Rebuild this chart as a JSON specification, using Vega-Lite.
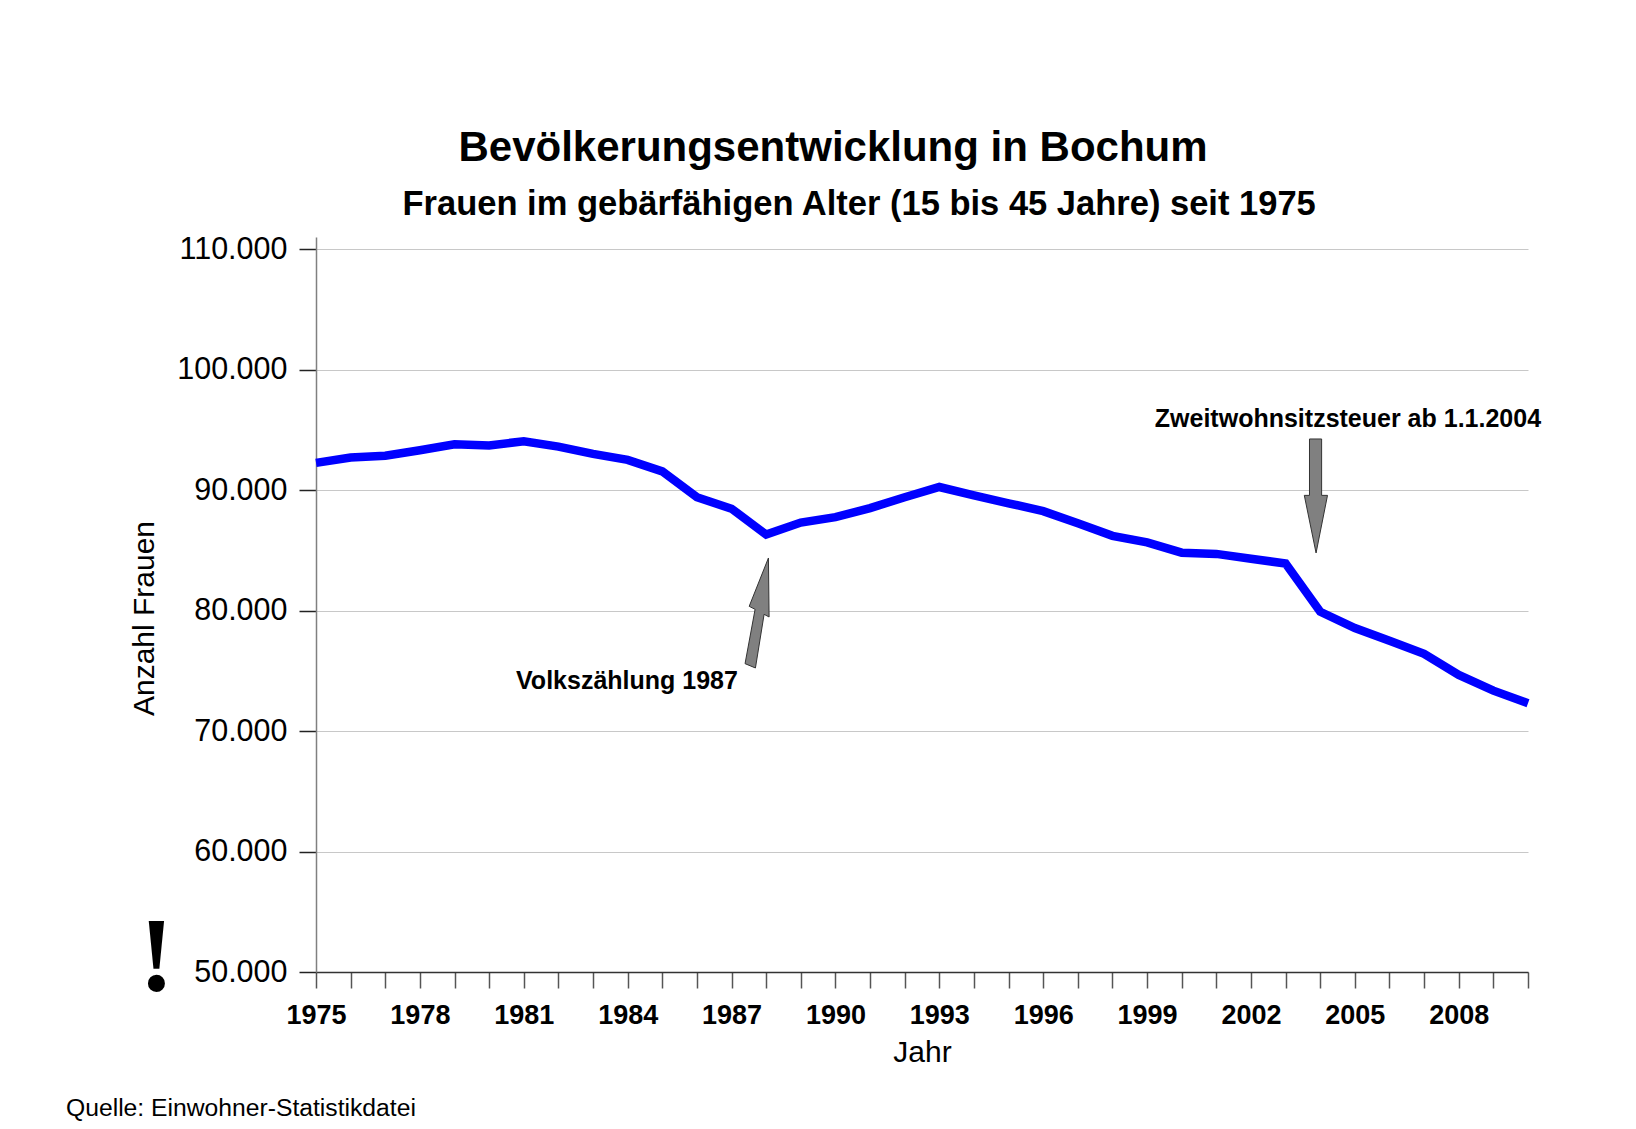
{
  "$schema": "https://vega.github.io/schema/vega-lite/v6.json",
  "width": 1212,
  "height": 735,
  "autosize": {"type": "none"},
  "padding": {"left": 316, "top": 237, "right": 108, "bottom": 157},
  "background": "white",
  "config": {
    "view": {"stroke": null},
    "locale": {"number": {"decimal": ",", "thousands": ".", "grouping": [3], "currency": ["", " €"]}},
    "font": "Liberation Sans"
  },
  "title": {
    "text": "Bevölkerungsentwicklung in Bochum",
    "font": "Liberation Sans",
    "fontSize": 42,
    "fontWeight": "bold",
    "color": "black",
    "anchor": "middle",
    "dx": -89,
    "baseline": "alphabetic",
    "offset": -17
  },
  "resolve": {"axis": {"x": "independent", "y": "independent"}},
  "layer": [
    {
      "data": {"values": [
        {"year": 1975, "value": 92250}, {"year": 1976, "value": 92700}, {"year": 1977, "value": 92850},
        {"year": 1978, "value": 93300}, {"year": 1979, "value": 93800}, {"year": 1980, "value": 93700},
        {"year": 1981, "value": 94050}, {"year": 1982, "value": 93600}, {"year": 1983, "value": 93000},
        {"year": 1984, "value": 92500}, {"year": 1985, "value": 91550}, {"year": 1986, "value": 89400},
        {"year": 1987, "value": 88450}, {"year": 1988, "value": 86300}, {"year": 1989, "value": 87300},
        {"year": 1990, "value": 87750}, {"year": 1991, "value": 88500}, {"year": 1992, "value": 89400},
        {"year": 1993, "value": 90250}, {"year": 1994, "value": 89550}, {"year": 1995, "value": 88900},
        {"year": 1996, "value": 88250}, {"year": 1997, "value": 87250}, {"year": 1998, "value": 86200},
        {"year": 1999, "value": 85650}, {"year": 2000, "value": 84800}, {"year": 2001, "value": 84700},
        {"year": 2002, "value": 84300}, {"year": 2003, "value": 83900}, {"year": 2004, "value": 79900},
        {"year": 2005, "value": 78550}, {"year": 2006, "value": 77500}, {"year": 2007, "value": 76400},
        {"year": 2008, "value": 74650}, {"year": 2009, "value": 73350}, {"year": 2010, "value": 72300}
      ]},
      "mark": {"type": "line", "color": "#0000ff", "strokeWidth": 8.5, "strokeJoin": "miter", "strokeCap": "butt"},
      "encoding": {
        "x": {
          "field": "year", "type": "quantitative",
          "scale": {"domain": [1975, 2010], "nice": false, "zero": false},
          "axis": {
            "orient": "bottom",
            "values": [1975,1976,1977,1978,1979,1980,1981,1982,1983,1984,1985,1986,1987,1988,1989,1990,1991,1992,1993,1994,1995,1996,1997,1998,1999,2000,2001,2002,2003,2004,2005,2006,2007,2008,2009,2010],
            "format": "d",
            "labelExpr": "(datum.value - 1975) % 3 === 0 ? datum.label : ''",
            "labelFont": "Liberation Sans",
            "labelFontSize": 27,
            "labelFontWeight": "bold",
            "labelColor": "black",
            "labelPadding": 14,
            "labelOverlap": false,
            "labelFlush": false,
            "tickSize": 16,
            "tickColor": "#555555",
            "tickWidth": 1.5,
            "domainColor": "#333333",
            "domainWidth": 1.5,
            "grid": false,
            "title": "Jahr",
            "titleFont": "Liberation Sans",
            "titleFontSize": 30,
            "titleFontWeight": "normal",
            "titleColor": "black",
            "titlePadding": 9
          }
        },
        "y": {
          "field": "value", "type": "quantitative",
          "scale": {"domain": [50000, 111000], "nice": false, "zero": false},
          "axis": {
            "values": [50000, 60000, 70000, 80000, 90000, 100000, 110000],
            "format": ",d",
            "labelFont": "Liberation Sans",
            "labelFontSize": 30.5,
            "labelColor": "black",
            "labelPadding": 12,
            "tickSize": 17,
            "tickColor": "#222222",
            "tickWidth": 1.5,
            "domainColor": "#808080",
            "domainWidth": 1.5,
            "grid": true,
            "gridColor": "#c8c8c8",
            "gridWidth": 1,
            "title": "Anzahl Frauen",
            "titleFont": "Liberation Sans",
            "titleFontSize": 30,
            "titleFontWeight": "normal",
            "titleColor": "black",
            "titlePadding": 17,
            "titleY": 381
          }
        }
      }
    },
    {
      "data": {"values": [
        {"arrow": "volkszaehlung", "ord": 1, "year": 1988.065, "value": 84360},
        {"arrow": "volkszaehlung", "ord": 2, "year": 1988.084, "value": 79464},
        {"arrow": "volkszaehlung", "ord": 3, "year": 1987.94, "value": 79685},
        {"arrow": "volkszaehlung", "ord": 4, "year": 1987.69, "value": 75232},
        {"arrow": "volkszaehlung", "ord": 5, "year": 1987.39, "value": 75591},
        {"arrow": "volkszaehlung", "ord": 6, "year": 1987.68, "value": 80100},
        {"arrow": "volkszaehlung", "ord": 7, "year": 1987.51, "value": 80349},
        {"arrow": "volkszaehlung", "ord": 8, "year": 1988.065, "value": 84360},
        {"arrow": "zweitwohnsitz", "ord": 1, "year": 2003.69, "value": 94237},
        {"arrow": "zweitwohnsitz", "ord": 2, "year": 2004.04, "value": 94237},
        {"arrow": "zweitwohnsitz", "ord": 3, "year": 2004.04, "value": 89557},
        {"arrow": "zweitwohnsitz", "ord": 4, "year": 2004.21, "value": 89557},
        {"arrow": "zweitwohnsitz", "ord": 5, "year": 2003.88, "value": 84777},
        {"arrow": "zweitwohnsitz", "ord": 6, "year": 2003.54, "value": 89557},
        {"arrow": "zweitwohnsitz", "ord": 7, "year": 2003.69, "value": 89557},
        {"arrow": "zweitwohnsitz", "ord": 8, "year": 2003.69, "value": 94237}
      ]},
      "mark": {"type": "line", "fill": "#808080", "stroke": "#333333", "strokeWidth": 1, "strokeJoin": "miter"},
      "encoding": {
        "x": {"field": "year", "type": "quantitative", "scale": {"domain": [1975, 2010], "nice": false, "zero": false}, "axis": null},
        "y": {"field": "value", "type": "quantitative", "scale": {"domain": [50000, 111000], "nice": false, "zero": false}, "axis": null},
        "detail": {"field": "arrow"},
        "order": {"field": "ord", "type": "quantitative"}
      }
    },
    {
      "data": {"values": [
        {"label": "Zweitwohnsitzsteuer ab 1.1.2004", "year": 2004.80, "value": 95258},
        {"label": "Volkszählung 1987", "year": 1983.98, "value": 73517}
      ]},
      "mark": {"type": "text", "font": "Liberation Sans", "fontSize": 25, "fontWeight": "bold", "color": "black", "align": "center", "baseline": "alphabetic"},
      "encoding": {
        "x": {
          "field": "year", "type": "quantitative", "scale": {"domain": [1975, 2010], "nice": false, "zero": false},
          "axis": {
            "orient": "top", "domain": false, "ticks": false, "labels": false, "grid": false,
            "title": "Frauen im gebärfähigen Alter (15 bis 45 Jahre) seit 1975",
            "titleFont": "Liberation Sans", "titleFontSize": 34.5, "titleFontWeight": "bold", "titleColor": "black",
            "titleX": 542.6, "titleY": -23, "titleAlign": "center", "titleBaseline": "alphabetic", "titleAnchor": "start"
          }
        },
        "y": {"field": "value", "type": "quantitative", "scale": {"domain": [50000, 111000], "nice": false, "zero": false}, "axis": null},
        "text": {"field": "label"}
      }
    },
    {
      "data": {"values": [{"label": "Quelle: Einwohner-Statistikdatei", "year": 1967.78, "value": 38084}]},
      "mark": {"type": "text", "font": "Liberation Sans", "fontSize": 24.7, "fontWeight": "normal", "color": "black", "align": "left", "baseline": "alphabetic"},
      "encoding": {
        "x": {"field": "year", "type": "quantitative", "scale": {"domain": [1975, 2010], "nice": false, "zero": false}, "axis": null},
        "y": {"field": "value", "type": "quantitative", "scale": {"domain": [50000, 111000], "nice": false, "zero": false}, "axis": null},
        "text": {"field": "label"}
      }
    },
    {
      "data": {"values": [{"label": "!", "year": 1970.39, "value": 48398}]},
      "mark": {"type": "text", "font": "Liberation Serif", "fontSize": 105, "fontWeight": "bold", "color": "black", "align": "center", "baseline": "alphabetic"},
      "encoding": {
        "x": {"field": "year", "type": "quantitative", "scale": {"domain": [1975, 2010], "nice": false, "zero": false}, "axis": null},
        "y": {"field": "value", "type": "quantitative", "scale": {"domain": [50000, 111000], "nice": false, "zero": false}, "axis": null},
        "text": {"field": "label"}
      }
    }
  ]
}
